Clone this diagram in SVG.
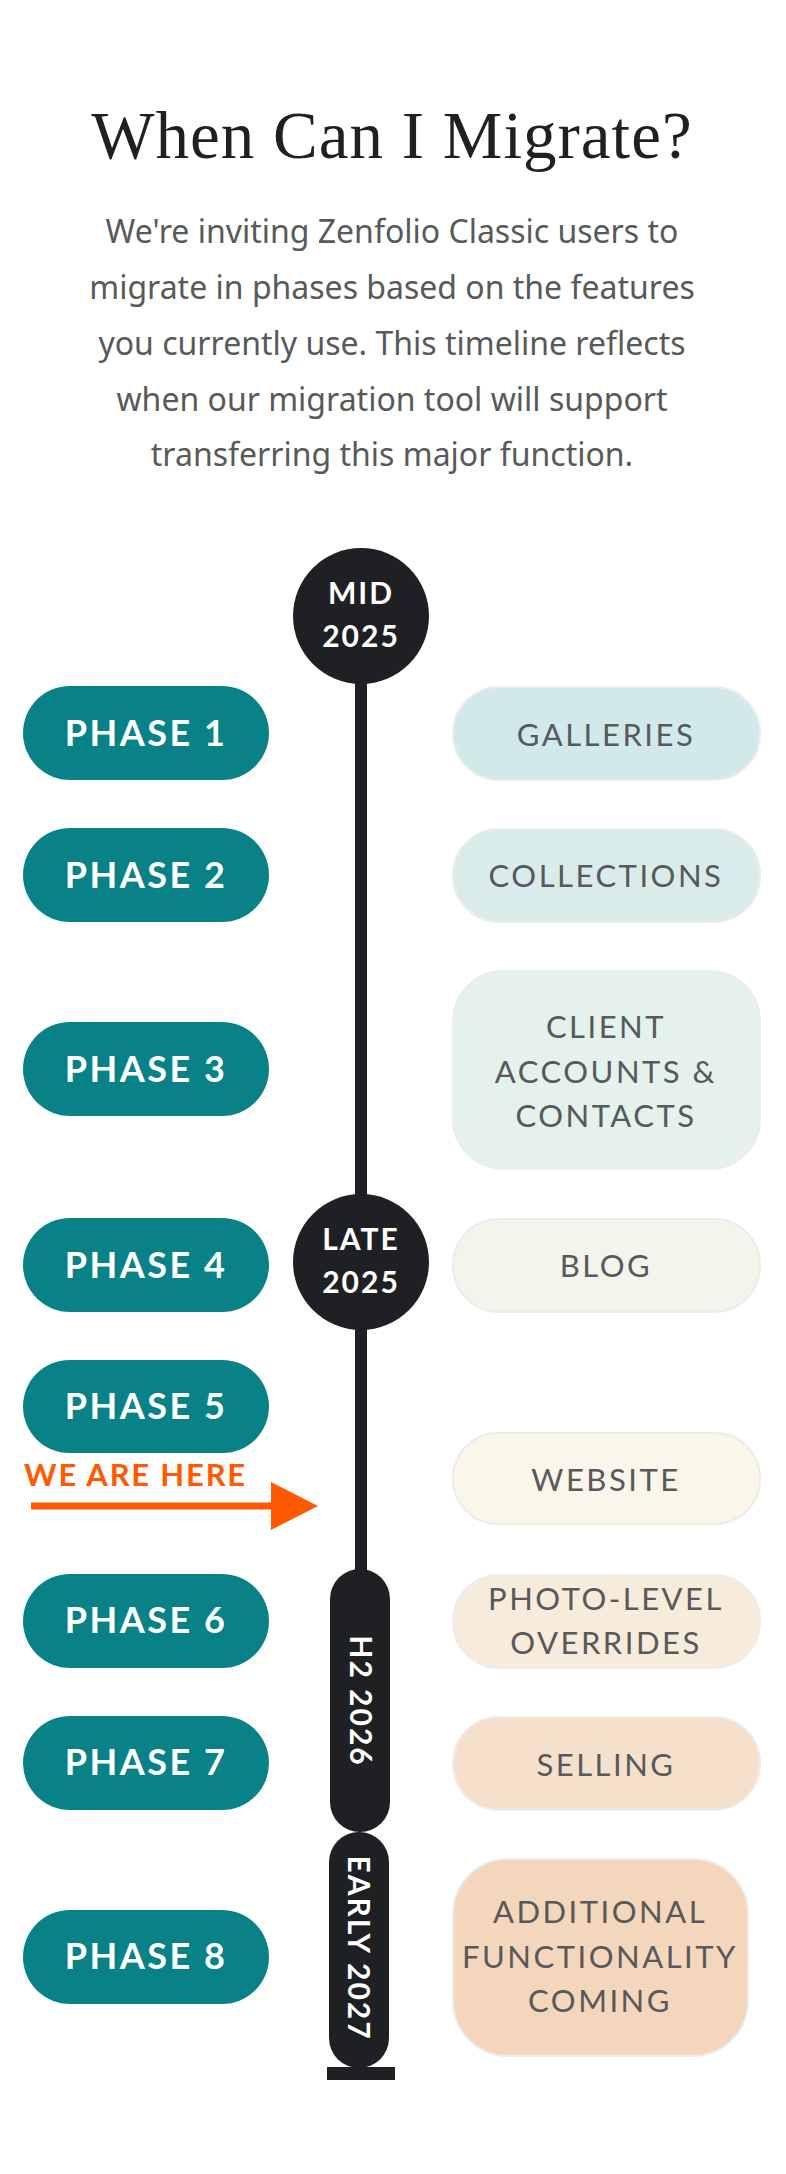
<svg xmlns="http://www.w3.org/2000/svg" width="786" height="2174" viewBox="0 0 786 2174">
<style>
.t{font-family:"Liberation Serif",serif;font-size:67px;fill:#1f2023;text-anchor:middle;letter-spacing:1px}
.s{font-family:"Noto Sans",sans-serif;font-size:32px;fill:#58595b;text-anchor:middle}
.ph{fill:#088287}
.pt{font-family:Lato,"Noto Sans",sans-serif;font-weight:bold;font-size:36px;fill:#fff;text-anchor:middle;letter-spacing:2.5px}
.ft{font-family:Lato,"Noto Sans",sans-serif;font-size:31px;fill:#58595b;text-anchor:middle;letter-spacing:2.5px}
.fb{stroke:#ececec;stroke-width:2}
.dk{fill:#1f2023}
.dt{font-family:Lato,"Noto Sans",sans-serif;font-weight:bold;font-size:30px;fill:#fff;text-anchor:middle;letter-spacing:2px}
</style>
<rect width="786" height="2174" fill="#fff"/>
<text class="t" x="392" y="158">When Can I Migrate?</text>
<g id="subtitle">
<text class="s" x="392" y="243">We're inviting Zenfolio Classic users to</text>
<text class="s" x="392" y="299">migrate in phases based on the features</text>
<text class="s" x="392" y="355">you currently use. This timeline reflects</text>
<text class="s" x="392" y="411">when our migration tool will support</text>
<text class="s" x="392" y="466">transferring this major function.</text>
</g>
<g id="connectors">
<rect class="dk" x="355" y="670" width="12" height="910"/>
<rect class="dk" x="327" y="2067" width="68" height="13"/>
<rect x="31" y="1502.5" width="242" height="7" fill="#ff5a00"/>
<polygon points="271,1482 318,1506 271,1530" fill="#ff5a00"/>
</g>
<g id="mid2025"><circle class="dk" cx="361" cy="616" r="68"/><text class="dt" x="361" y="604">MID</text><text class="dt" x="361" y="647">2025</text></g>
<g id="late2025"><circle class="dk" cx="361" cy="1262" r="68"/><text class="dt" x="361" y="1250">LATE</text><text class="dt" x="361" y="1293">2025</text></g>
<g id="h2-2026"><rect class="dk" x="330" y="1569" width="60" height="263" rx="30"/><text class="dt" transform="translate(361,1701) rotate(90)" y="11">H2  2026</text></g>
<g id="early2027"><rect class="dk" x="329" y="1832" width="60" height="236" rx="30"/><text class="dt" transform="translate(359,1948) rotate(90)" y="11">EARLY 2027</text></g>
<g id="here"><text x="24" y="1486" font-family="Lato,'Noto Sans',sans-serif" font-weight="bold" font-size="31" fill="#ff5a00" letter-spacing="1.8">WE ARE HERE</text></g>
<g id="phase1"><rect class="ph" x="23" y="686" width="246" height="94" rx="47"/><text class="pt" x="146" y="746">PHASE 1</text></g>
<g id="phase2"><rect class="ph" x="23" y="828" width="246" height="94" rx="47"/><text class="pt" x="146" y="888">PHASE 2</text></g>
<g id="phase3"><rect class="ph" x="23" y="1022" width="246" height="94" rx="47"/><text class="pt" x="146" y="1082">PHASE 3</text></g>
<g id="phase4"><rect class="ph" x="23" y="1218" width="246" height="94" rx="47"/><text class="pt" x="146" y="1278">PHASE 4</text></g>
<g id="phase5"><rect class="ph" x="23" y="1360" width="246" height="93" rx="46.5"/><text class="pt" x="146" y="1419">PHASE 5</text></g>
<g id="phase6"><rect class="ph" x="23" y="1574" width="246" height="94" rx="47"/><text class="pt" x="146" y="1633">PHASE 6</text></g>
<g id="phase7"><rect class="ph" x="23" y="1716" width="246" height="94" rx="47"/><text class="pt" x="146" y="1775">PHASE 7</text></g>
<g id="phase8"><rect class="ph" x="23" y="1910" width="246" height="94" rx="47"/><text class="pt" x="146" y="1969">PHASE 8</text></g>
<g id="galleries"><rect class="fb" x="453" y="687" width="307" height="93" rx="46" fill="#d2e9ec"/><text class="ft" x="606" y="746">GALLERIES</text></g>
<g id="collections"><rect class="fb" x="453" y="829" width="307" height="93" rx="46" fill="#daecea"/><text class="ft" x="606" y="887">COLLECTIONS</text></g>
<g id="client"><rect class="fb" x="453" y="971" width="307" height="198" rx="50" fill="#e4f1ec"/><text class="ft" x="606" y="1038">CLIENT</text><text class="ft" x="606" y="1083">ACCOUNTS &amp;</text><text class="ft" x="606" y="1127">CONTACTS</text></g>
<g id="blog"><rect class="fb" x="453" y="1219" width="307" height="93" rx="46" fill="#f3f5ec"/><text class="ft" x="606" y="1277">BLOG</text></g>
<g id="website"><rect class="fb" x="453" y="1433" width="307" height="91" rx="45" fill="#faf6e9"/><text class="ft" x="606" y="1491">WEBSITE</text></g>
<g id="photo"><rect class="fb" x="453" y="1575" width="307" height="93" rx="46" fill="#f7ecdc"/><text class="ft" x="606" y="1610">PHOTO-LEVEL</text><text class="ft" x="606" y="1654">OVERRIDES</text></g>
<g id="selling"><rect class="fb" x="453" y="1717" width="307" height="93" rx="46" fill="#f5e1cb"/><text class="ft" x="606" y="1776">SELLING</text></g>
<g id="additional"><rect class="fb" x="453" y="1859" width="295" height="197" rx="55" fill="#f4d6bc"/><text class="ft" x="600" y="1923">ADDITIONAL</text><text class="ft" x="600" y="1968">FUNCTIONALITY</text><text class="ft" x="600" y="2012">COMING</text></g>
</svg>
